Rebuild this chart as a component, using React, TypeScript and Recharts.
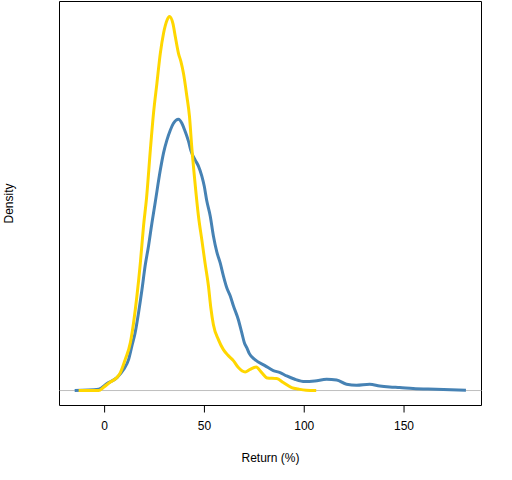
import React from 'react';
import { LineChart, Line, XAxis, YAxis, ReferenceLine, ReferenceArea } from 'recharts';

// Density estimates
const blueX = [-15, -3, 1.2, 6.2, 9.5, 12, 13.7, 15.3, 17, 18.7, 20.3, 22, 23.7, 25.3, 27.9, 29.5, 31.2, 32.9, 34.5, 37, 38.7, 40.3, 42, 43.3, 45.4, 47, 48.7, 49.9, 51.2, 52.9, 54.5, 56.2, 57.9, 59.5, 61.2, 62.9, 64.5, 67, 68.7, 70, 71.2, 72.5, 75.3, 80.3, 84.5, 87.9, 91.2, 95.3, 100.3, 105.3, 111.2, 116.2, 121.2, 126.2, 132.8, 137.8, 142.8, 147.8, 154.5, 166, 181];
const blueY = [0, 0.00013, 0.0007, 0.0013, 0.0021, 0.0031, 0.0045, 0.0058, 0.0078, 0.0101, 0.0125, 0.0145, 0.0168, 0.0188, 0.0221, 0.0238, 0.0251, 0.0261, 0.0268, 0.0272, 0.0268, 0.026, 0.025, 0.024, 0.0231, 0.0225, 0.0215, 0.0205, 0.019, 0.0175, 0.0155, 0.0139, 0.0128, 0.0115, 0.0103, 0.0095, 0.0085, 0.0071, 0.0058, 0.0048, 0.0043, 0.0037, 0.0031, 0.0025, 0.002, 0.0018, 0.00146, 0.00113, 0.0009, 0.00096, 0.00113, 0.00106, 0.00063, 0.00053, 0.00063, 0.00046, 0.00036, 0.0003, 0.0002, 0.00013, 0.00003];

const goldX = [-13, -3, -0.5, 2.9, 6.2, 7.9, 10.3, 12.9, 14.5, 16.2, 17.9, 19.5, 21, 22.9, 24.5, 26.2, 27.9, 29.5, 31.2, 32.5, 34.2, 35.4, 37, 38.2, 39.5, 41.2, 42.5, 43.7, 45.2, 47, 48.7, 50.3, 52, 53.2, 54.5, 57, 59.5, 62, 64.5, 67, 70.4, 72.9, 75.9, 78.7, 81.5, 86.2, 89.5, 93.7, 97, 101, 106];
const goldY = [0, 0, 0.00033, 0.00086, 0.0013, 0.0018, 0.0031, 0.0048, 0.0068, 0.0095, 0.0128, 0.0165, 0.0193, 0.0241, 0.0278, 0.0308, 0.0338, 0.0358, 0.0371, 0.0375, 0.0368, 0.0355, 0.0338, 0.033, 0.0318, 0.0295, 0.0275, 0.0243, 0.021, 0.0175, 0.0151, 0.0128, 0.0105, 0.0083, 0.0066, 0.0051, 0.0041, 0.0035, 0.003, 0.0023, 0.00186, 0.00213, 0.00236, 0.0018, 0.00126, 0.0012, 0.0008, 0.0003, 0.00015, 0.00003, 0];

const xTicks = [0, 50, 100, 150];
const xDomain = [-22.6, 188.8];
const yDomain = [-0.0015, 0.039];

const blueData = blueX.map((x, i) => ({ x, y: blueY[i] }));
const goldData = goldX.map((x, i) => ({ x, y: goldY[i] }));

const FONT = '"Liberation Sans", Arial, Helvetica, sans-serif';

const DensityLabel = (props: any) => {
  const vb = props.viewBox || { x: 0, y: 0, width: 0, height: 0 };
  const cx = 13;
  const cy = vb.y + vb.height / 2;
  return (
    <text x={cx} y={cy} transform={`rotate(-90 ${cx} ${cy})`} textAnchor="middle" fontFamily={FONT} fontSize={12} fill="#000">
      Density
    </text>
  );
};

export default function App() {
  return (
    <div style={{ position: 'absolute', left: 0, top: 0, width: 512, height: 480, background: '#fff' }}>
      <LineChart width={512} height={480} margin={{ top: 1.5, right: 30.5, bottom: 0.5, left: 0.5 }}>
        <XAxis
          type="number"
          dataKey="x"
          domain={xDomain}
          ticks={xTicks}
          allowDataOverflow
          axisLine={false}
          tickLine={{ stroke: '#000' }}
          tickSize={7}
          tickMargin={9}
          height={74}
          tick={{ fill: '#000', fontSize: 12, fontFamily: FONT }}
          label={{ value: 'Return (%)', position: 'insideBottom', offset: 18, fill: '#000', fontSize: 12, fontFamily: FONT }}
        />
        <YAxis
          type="number"
          dataKey="y"
          domain={yDomain}
          allowDataOverflow
          width={59}
          tick={false}
          axisLine={false}
          tickLine={false}
          label={{ content: DensityLabel }}
        />
        <ReferenceLine y={0} stroke="#BEBEBE" strokeWidth={1} />
        <Line data={blueData} dataKey="y" type="monotone" stroke="#4682B4" strokeWidth={3} dot={false} isAnimationActive={false} />
        <Line data={goldData} dataKey="y" type="monotone" stroke="#FFD700" strokeWidth={3} dot={false} isAnimationActive={false} />
        <ReferenceArea x1={xDomain[0]} x2={xDomain[1]} y1={yDomain[0]} y2={yDomain[1]} fill="none" stroke="#000" strokeWidth={1} ifOverflow="visible" />
      </LineChart>
    </div>
  );
}
